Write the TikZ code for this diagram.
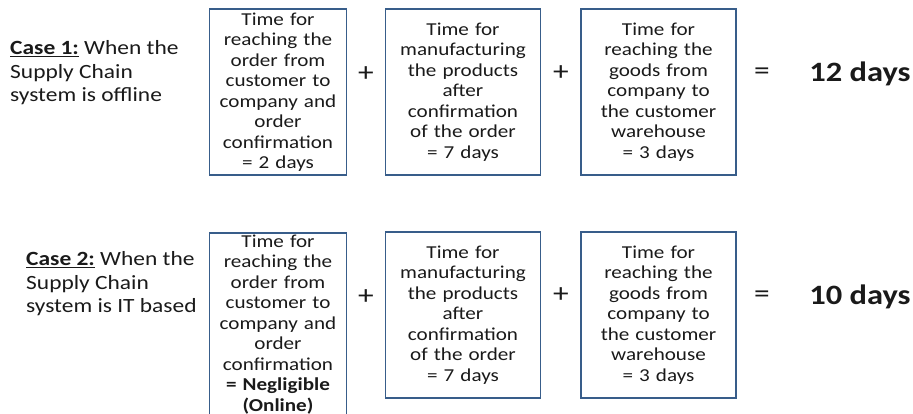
\documentclass[tikz,border=0pt]{standalone}
\usepackage{fontspec}
\setmainfont{Carlito}[FakeStretch=1.16]
\definecolor{boxc}{HTML}{385D8A}
\definecolor{txt}{HTML}{1A1A1A}
\begin{document}
\begin{tikzpicture}[x=1pt,y=-1pt,
  tbox/.style={draw=boxc, line width=1.7pt, align=center, inner xsep=0pt, inner ysep=2pt,
    text=txt, font=\fontsize{18.2}{20.5}\selectfont},
  caselbl/.style={align=left, anchor=west, inner sep=0pt, text=txt,
    font=\fontsize{20.2}{23.5}\selectfont},
  opsign/.style={inner sep=0pt, text=txt, font=\fontsize{27}{27}\selectfont},
  total/.style={inner sep=0pt, text=txt, font=\fontsize{28}{28}\selectfont\bfseries}]
\useasboundingbox (0,0) rectangle (913,413);
\fill[white] (0,0) rectangle (913,413);
\clip (0,0) rectangle (913,413);
% Case 1
\node[caselbl] (c1) at (10,73) {\underline{\textbf{Case 1:}} When the\\Supply Chain\\system is offline};
\node[tbox, text width=137pt, minimum height=166pt] (a1) at (278,92)
  {Time for\\reaching the\\order from\\customer to\\company and\\order\\confirmation\\= 2 days};
\node[opsign] (p11) at (366,74) {+};
\node[tbox, text width=155pt, minimum height=166pt] (a2) at (463,92)
  {Time for\\manufacturing\\the products\\after\\confirmation\\of the order\\= 7 days};
\node[opsign] (p12) at (561,73) {+};
\node[tbox, text width=155pt, minimum height=166pt] (a3) at (658.5,92)
  {Time for\\reaching the\\goods from\\company to\\the customer\\warehouse\\= 3 days};
\node[opsign] (e1) at (762,74) {=};
\node[total] (t1) at (860,74) {12 days};
% Case 2
\node[caselbl] (c2) at (26,284) {\underline{\textbf{Case 2:}} When the\\Supply Chain\\system is IT based};
\node[tbox, text width=137pt, anchor=north] (b1) at (278,232)
  {Time for\\reaching the\\order from\\customer to\\company and\\order\\confirmation\\\textbf{= Negligible}\\\textbf{(Online)}\\[4pt]};
\node[opsign] (p21) at (366,297) {+};
\node[tbox, text width=155pt, minimum height=166pt] (b2) at (463,315)
  {Time for\\manufacturing\\the products\\after\\confirmation\\of the order\\= 7 days};
\node[opsign] (p22) at (561,295) {+};
\node[tbox, text width=155pt, minimum height=166pt] (b3) at (658.5,315)
  {Time for\\reaching the\\goods from\\company to\\the customer\\warehouse\\= 3 days};
\node[opsign] (e2) at (762,297) {=};
\node[total] (t2) at (860,297) {10 days};
\end{tikzpicture}
\end{document}
